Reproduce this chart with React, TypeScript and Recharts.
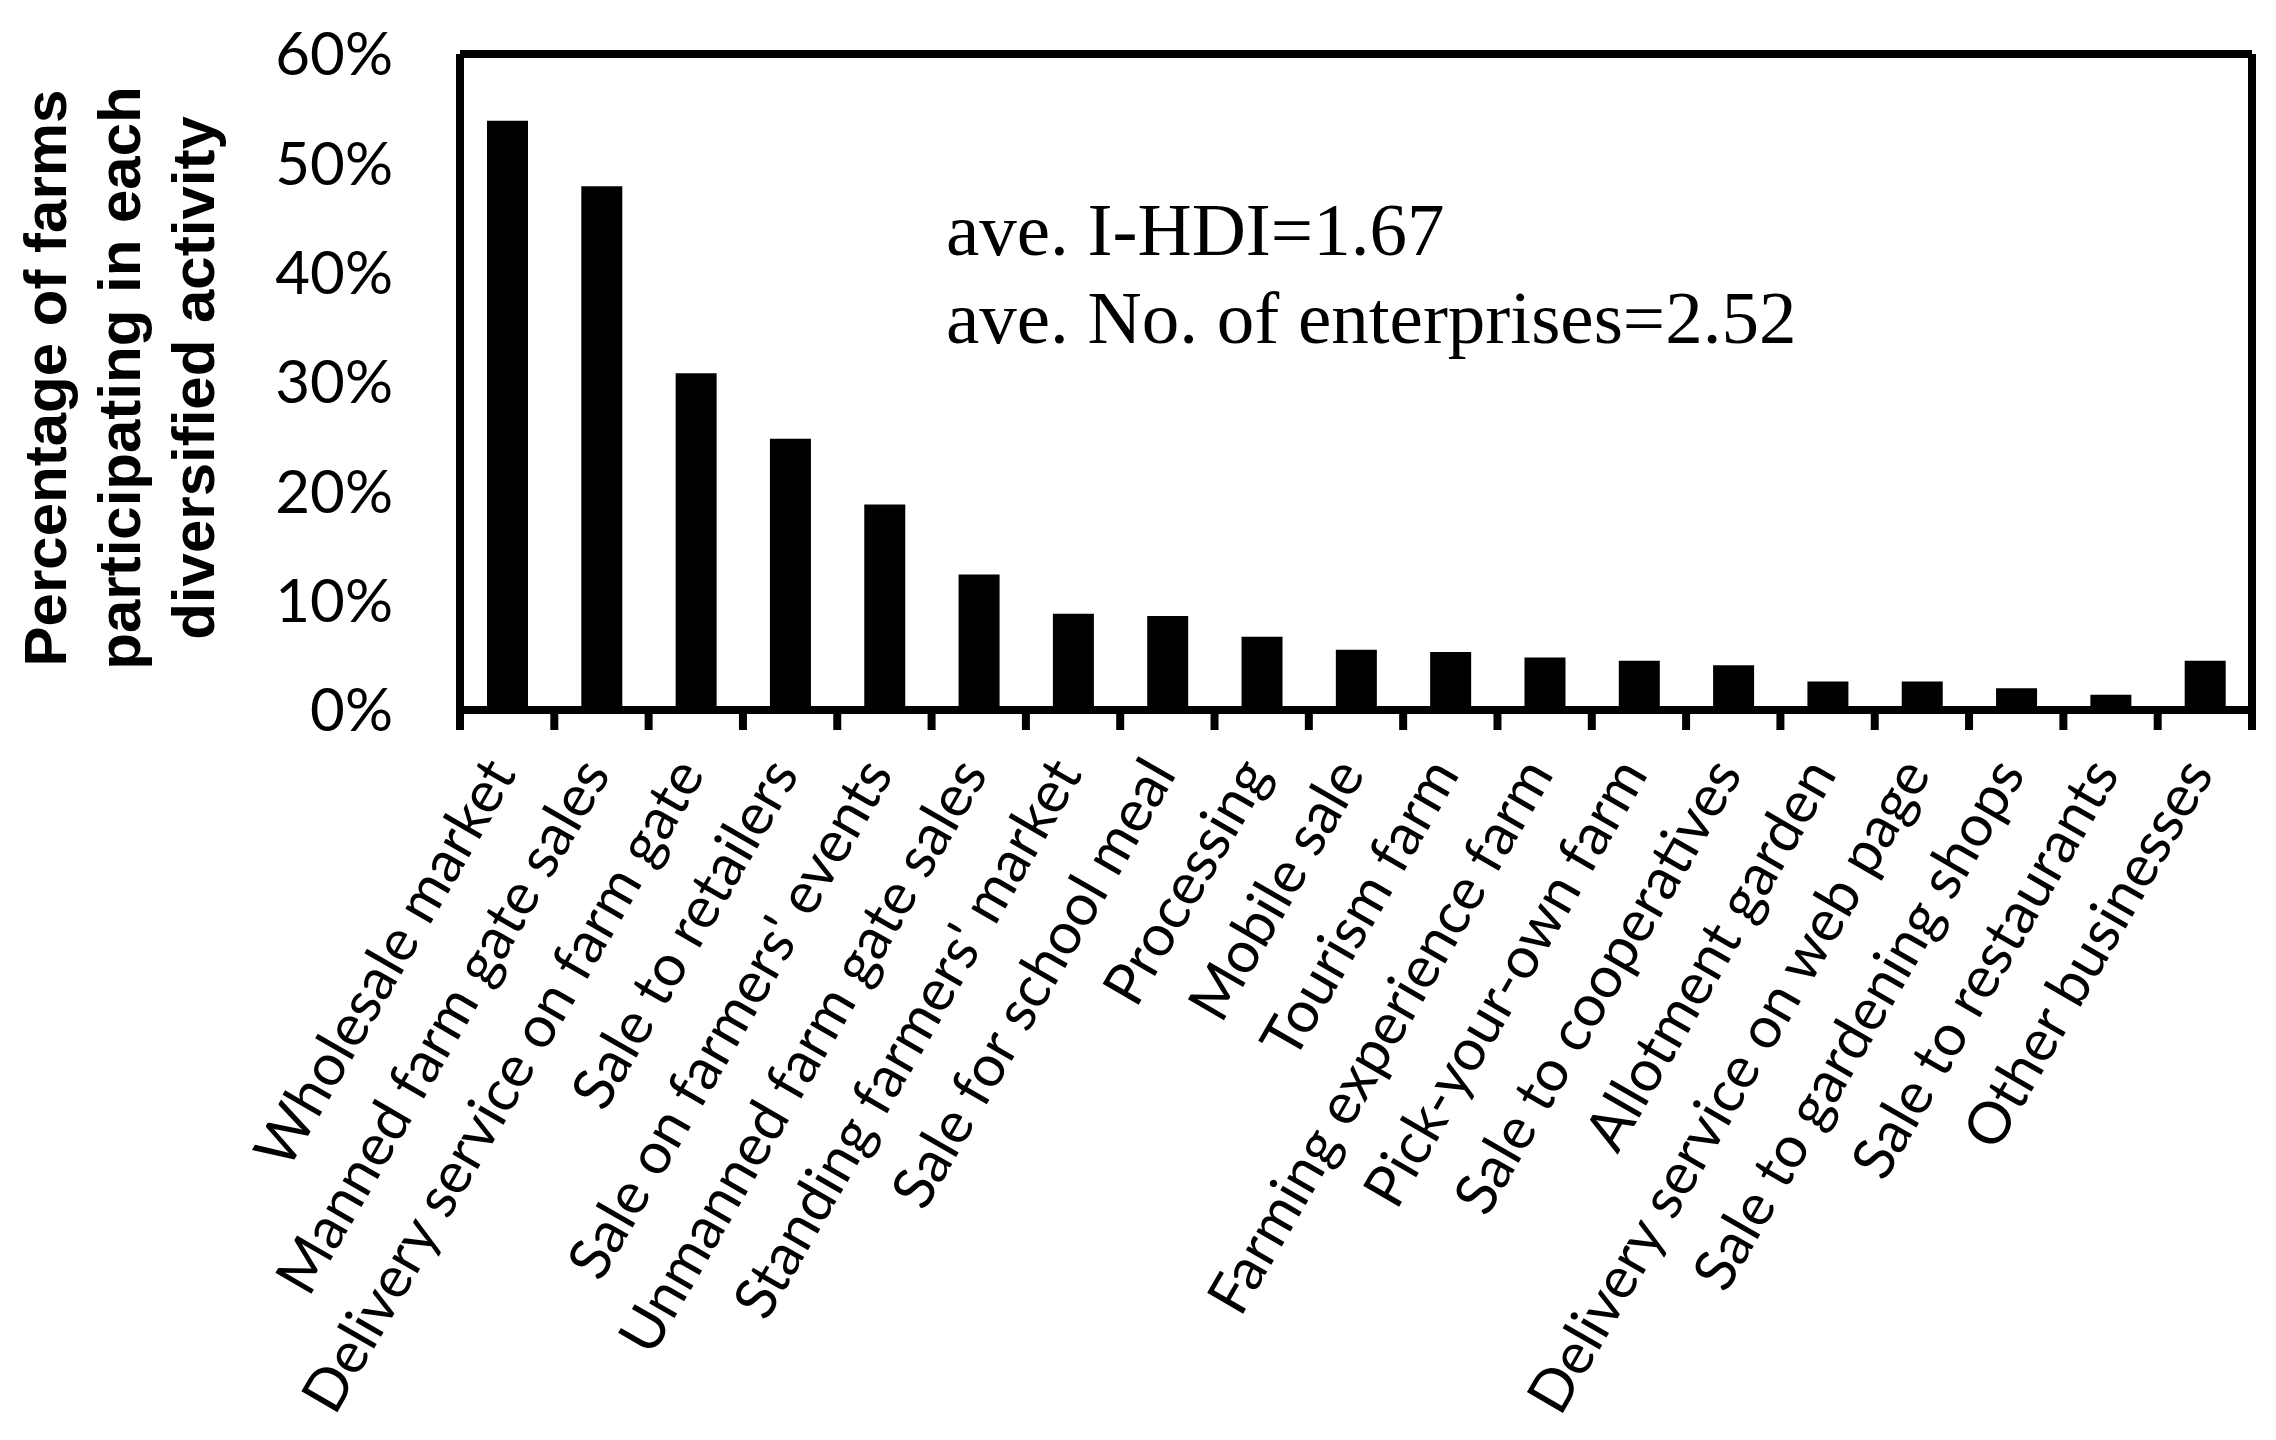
import React from 'react'
import { BarChart, Bar, XAxis, YAxis, ReferenceLine } from 'recharts'

const categories = [
  'Wholesale market',
  'Manned farm gate sales',
  'Delivery service on farm gate',
  'Sale to retailers',
  "Sale on farmers' events",
  'Unmanned farm gate sales',
  "Standing farmers' market",
  'Sale for school meal',
  'Processing',
  'Mobile sale',
  'Tourism farm',
  'Farming experience farm',
  'Pick-your-own farm',
  'Sale to cooperatives',
  'Allotment garden',
  'Delivery service on web page',
  'Sale to gardening shops',
  'Sale to restaurants',
  'Other businesses',
]

// % of farms participating
const shares = [53.9, 47.9, 30.8, 24.8, 18.8, 12.4, 8.8, 8.6, 6.7, 5.5, 5.3, 4.8, 4.5, 4.1, 2.6, 2.6, 2.0, 1.4, 4.5]

const yTicks = [0, 10, 20, 30, 40, 50, 60]
const titleLines = ['Percentage of farms', 'participating in each', 'diversified activity']
const notes = ['ave. I-HDI=1.67', 'ave. No. of enterprises=2.52']

const data = categories.map((name, i) => ({ name, share: shares[i], idx: i + 0.5 }))
const edgeTicks = [...categories.map((_, i) => i), categories.length]

if (typeof document !== 'undefined') document.body.style.margin = '0'

const CatTick = (props: any) => {
  const { x, y, payload } = props
  return (
    <g transform={`translate(${x + 10},${y + 44}) rotate(-60)`}>
      <text
        textAnchor="end"
        fontFamily="Lato, 'Open Sans', sans-serif"
        fontSize={58}
        fill="#000"
      >
        {payload.value}
      </text>
    </g>
  )
}

export default function App() {
  return (
    <div style={{ width: 2276, height: 1440, background: '#fff' }}>
      <BarChart
        width={2276}
        height={1440}
        data={data}
        margin={{ top: 54, right: 24, bottom: 0, left: 0 }}
        barSize={41}
      >
        <XAxis
          xAxisId="b-cat"
          dataKey="name"
          interval={0}
          height={710}
          tickLine={false}
          axisLine={false}
          tickSize={0}
          tickMargin={0}
          tick={<CatTick />}
        />
        <XAxis
          xAxisId="a-edge"
          type="number"
          dataKey="idx"
          domain={[0, categories.length]}
          ticks={edgeTicks}
          interval={0}
          allowDataOverflow
          height={20}
          tickFormatter={() => ''}
          tickSize={20}
          tickLine={{ stroke: '#000', strokeWidth: 8 }}
          axisLine={{ stroke: '#000', strokeWidth: 8 }}
        />
        <YAxis
          width={460}
          domain={[0, 60]}
          ticks={yTicks}
          tickFormatter={(v: number) => `${v}%`}
          tickLine={false}
          tickSize={0}
          tickMargin={67}
          axisLine={{ stroke: '#000', strokeWidth: 8 }}
          tick={{ fill: '#000', fontSize: 60, fontFamily: "Lato, 'Open Sans', sans-serif" }}
        />
        <ReferenceLine y={60} stroke="#000" strokeWidth={8} />
        <ReferenceLine xAxisId="a-edge" x={categories.length} stroke="#000" strokeWidth={8} />
        <Bar xAxisId="b-cat" dataKey="share" fill="#000" isAnimationActive={false} />
        <g>
          {titleLines.map((t, i) => (
            <text
              key={t}
              transform={`translate(${66 + 74 * i},378) rotate(-90)`}
              textAnchor="middle"
              fontFamily="'Liberation Sans', Arial, sans-serif"
              fontWeight="bold"
              fontSize={60}
              fill="#000"
            >
              {t}
            </text>
          ))}
          {notes.map((t, i) => (
            <text
              key={t}
              x={946}
              y={255 + 88 * i}
              fontFamily="'Liberation Serif', 'Times New Roman', serif"
              fontSize={75}
              fill="#000"
            >
              {t}
            </text>
          ))}
        </g>
      </BarChart>
    </div>
  )
}
